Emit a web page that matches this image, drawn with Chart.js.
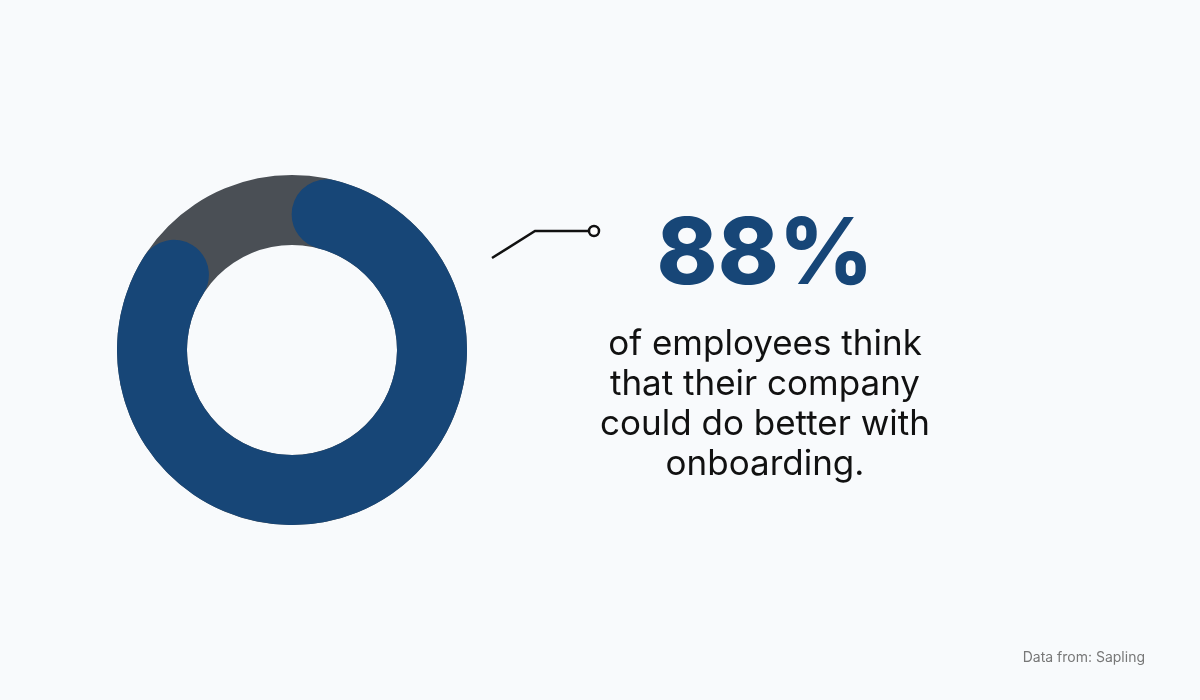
<!DOCTYPE html>
<html><head><meta charset="utf-8">
<script src="https://cdn.jsdelivr.net/npm/chart.js@4"></script>
<style>
html,body{margin:0;padding:0;background:#f8fafc;width:1200px;height:700px;overflow:hidden;font-family:Inter,"Noto Sans",sans-serif;}
.c{position:absolute;left:117px;top:175px;width:350px;height:350px;}
#big{position:absolute;left:565px;width:400px;top:205px;text-align:center;font-size:92px;font-weight:800;color:#174677;line-height:1;}
#desc{position:absolute;left:565px;width:400px;top:322px;text-align:center;font-size:35px;color:#111;line-height:40px;}
#src{position:absolute;right:55px;top:648px;font-size:14px;color:#777;}
svg{position:absolute;left:0;top:0;}
</style></head><body>
<div class="c"><canvas id="bg"></canvas></div>
<div class="c"><canvas id="fg"></canvas></div>
<svg width="1200" height="700"><polyline points="492,258 535,231 589,231" fill="none" stroke="#111" stroke-width="2.5"/><circle cx="594" cy="231" r="5" fill="#fff" stroke="#111" stroke-width="2.5"/></svg>
<div id="big">88%</div>
<div id="desc">of employees think<br>that their company<br>could do better with<br>onboarding.</div>
<div id="src">Data from: Sapling</div>
<script>
const labels=["Could do better","Other"];
const values=[88,12];
const base={responsive:true,maintainAspectRatio:false,animation:false,cutout:'60%',plugins:{legend:{display:false},tooltip:{enabled:false}},layout:{padding:0}};
new Chart(document.getElementById('bg'),{type:'doughnut',data:{labels:['ring'],datasets:[{data:[100],backgroundColor:['#4a4f55'],borderWidth:0}]},options:base});
new Chart(document.getElementById('fg'),{type:'doughnut',data:{labels:labels,datasets:[{data:values,backgroundColor:['#174677','rgba(0,0,0,0)'],borderWidth:0,borderRadius:[35,0]}]},options:Object.assign({},base,{rotation:0})});
</script>
</body></html>
